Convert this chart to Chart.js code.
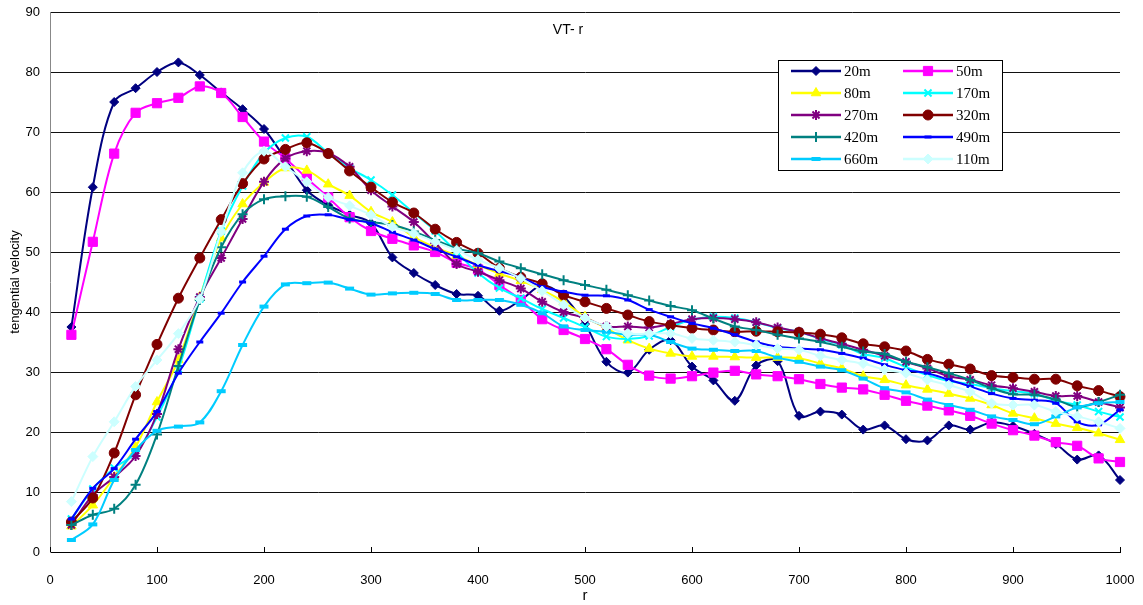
<!DOCTYPE html>
<html>
<head>
<meta charset="utf-8">
<script src="https://cdn.jsdelivr.net/npm/chart.js@4.4.0/dist/chart.umd.min.js"></script>
<style>
    html, body { margin: 0; padding: 0; background: #fff; }
</style>
</head>
<body>
<canvas id="vtChart" width="1143" height="605"></canvas>
<script>
// radius positions (x axis)
const radius = [20, 40, 60, 80, 100, 120, 140, 160, 180, 200,
    220, 240, 260, 280, 300, 320, 340, 360, 380, 400,
    420, 440, 460, 480, 500, 520, 540, 560, 580, 600,
    620, 640, 660, 680, 700, 720, 740, 760, 780, 800,
    820, 840, 860, 880, 900, 920, 940, 960, 980, 1000];

// tangential velocity per height
const v20m = [37.5, 60.8, 75, 77.3, 80, 81.6, 79.5, 76.6, 73.8, 70.5,
    65.5, 60.3, 57.8, 56.2, 54.8, 49.1, 46.5, 44.5, 43, 42.7,
    40.2, 42, 44.4, 42.6, 38, 31.7, 29.9, 33.7, 35.3, 30.9,
    28.6, 25.2, 31.1, 31.8, 22.7, 23.4, 22.9, 20.4, 21.1, 18.8,
    18.6, 21.1, 20.4, 21.6, 21, 19.7, 18, 15.4, 16.1, 12];
const v50m = [36.2, 51.7, 66.4, 73.2, 74.8, 75.7, 77.6, 76.5, 72.5, 68.4,
    65.6, 62.3, 59.1, 55.8, 53.5, 52.2, 51.1, 50, 48.2, 47.1,
    44.5, 42, 38.8, 37, 35.5, 33.8, 31.2, 29.4, 28.9, 29.3,
    29.9, 30.2, 29.6, 29.3, 28.8, 28, 27.4, 27.1, 26.2, 25.2,
    24.4, 23.6, 22.7, 21.4, 20.3, 19.4, 18.3, 17.7, 15.6, 15];
const v80m = [4.3, 7.8, 12.5, 17.5, 25, 32, 42.5, 52.3, 58, 61.6,
    64, 63.6, 61.3, 59.4, 56.7, 55, 52.5, 50.8, 49.4, 47.8,
    46.4, 45.2, 43.7, 41.7, 39.2, 37.3, 35.3, 33.9, 33.1, 32.6,
    32.6, 32.5, 32.4, 32.4, 32.3, 31.4, 30.6, 29.3, 28.7, 27.8,
    27.1, 26.4, 25.6, 24.5, 23.1, 22.3, 21.4, 20.7, 19.8, 18.7];
const v170m = [5.5, 10.5, 14, 16.5, 22.5, 30.5, 42.2, 53.5, 61, 66.5,
    69, 69.2, 66.5, 64, 62, 59.5, 56.5, 53.5, 50, 46.5,
    44, 42.3, 40.5, 39, 37.5, 35.9, 35.5, 36, 37.5, 38.7,
    39.2, 39, 38.3, 37.3, 36.7, 35.5, 34.5, 33, 32.3, 30.8,
    29.5, 28.5, 28, 27.3, 26.8, 26.4, 25.2, 24.5, 23.4, 22.5];
const v270m = [4.5, 9.5, 12.5, 16, 23, 33.8, 42.5, 49, 55.5, 61.7,
    65.6, 66.8, 66.5, 64.2, 60.3, 57.6, 55, 51.5, 48, 46.7,
    45.3, 43.9, 41.7, 40, 39, 37.6, 37.6, 37.4, 38, 38.8,
    39, 38.8, 38.3, 37.4, 36.7, 35.6, 34.7, 33.7, 32.7, 31.7,
    30.6, 29.3, 28.7, 27.8, 27.3, 26.7, 26, 26, 25, 24.1];
const v320m = [5, 9, 16.5, 26.2, 34.6, 42.3, 49, 55.4, 61.4, 65.5,
    67.1, 68.2, 66.4, 63.5, 60.8, 58.3, 56.5, 53.8, 51.6, 49.8,
    47.3, 45.8, 44.7, 42.8, 41.7, 40.6, 39.5, 38.4, 37.8, 37.3,
    37, 36.7, 36.8, 36.7, 36.6, 36.3, 35.7, 34.7, 34.2, 33.5,
    32.1, 31.3, 30.5, 29.4, 29.1, 28.8, 28.8, 27.7, 26.9, 25.9];
const v420m = [4.5, 6.2, 7.2, 11.2, 19.6, 31, 42, 50.8, 56.3, 58.8,
    59.3, 59.2, 57.5, 55.6, 55, 54.5, 53.4, 52, 50.6, 49.8,
    48.4, 47.3, 46.3, 45.3, 44.5, 43.7, 42.8, 41.9, 41, 40.3,
    38.9, 37.6, 37, 36.2, 35.6, 35, 34.2, 33.4, 33, 31.7,
    30.8, 29.8, 28.7, 27.3, 26.3, 26.2, 25.4, 24.2, 25, 26.2];
const v490m = [5.5, 10.6, 13.9, 18.8, 23.4, 29.8, 35, 39.8, 45, 49.3,
    53.8, 56, 56.2, 55.4, 54.8, 53.3, 52, 50.5, 49.2, 47.8,
    46.8, 45.8, 44.2, 43.4, 42.8, 42.7, 42, 40.4, 39.2, 38.1,
    37.3, 36.2, 35, 34.2, 33.9, 33.7, 33.1, 32.3, 31.2, 30.3,
    29.8, 28.7, 27.6, 26.4, 25.6, 25.3, 24.8, 21.7, 21.2, 23.7];
const v660m = [2, 4.6, 12, 17, 20.2, 20.9, 21.6, 26.8, 34.5, 40.9,
    44.6, 44.8, 44.9, 43.9, 42.9, 43.1, 43.2, 43, 42, 42,
    42, 41.2, 39.8, 37.6, 37, 36.7, 36.2, 36.2, 35, 33.9,
    33.7, 33.5, 33.5, 32.4, 31.7, 30.9, 30.3, 28.9, 27.3, 26.6,
    25.4, 24.5, 23.7, 22.6, 22, 21.3, 22.6, 24.1, 24.8, 25];
const v110m = [8.4, 15.9, 21.7, 27.6, 32, 36.4, 42.2, 53.4, 63.2, 66.8,
    64.2, 61.7, 59.1, 57.7, 56.2, 54.2, 53.1, 51.7, 50.3, 48.7,
    47.3, 45.6, 43.5, 41.2, 39, 37.6, 36.4, 36.4, 36.4, 35.6,
    35.3, 35, 34.5, 33.9, 33.7, 32.7, 32, 31.4, 30.4, 29.8,
    28.7, 27.8, 26.7, 24.8, 24.5, 24.5, 23.4, 22.6, 21.7, 20.6];

const seriesNames = ['20m', '50m', '80m', '170m', '270m', '320m', '420m', '490m', '660m', '110m'];
const seriesValues = [v20m, v50m, v80m, v170m, v270m, v320m, v420m, v490m, v660m, v110m];
const xTicks = [0, 100, 200, 300, 400, 500, 600, 700, 800, 900, 1000];
const yTicks = [0, 10, 20, 30, 40, 50, 60, 70, 80, 90];

// excel-ish styles: color, marker, marker radius, marker line width
const styles = [
    { color: '#000080', marker: 'rectRot', r: 4.5, w: 1 },
    { color: '#FF00FF', marker: 'rect', r: 6.5, w: 1 },
    { color: '#FFFF00', marker: 'triangle', r: 5.5, w: 1 },
    { color: '#00FFFF', marker: 'crossRot', r: 5, w: 2 },
    { color: '#800080', marker: 'star', r: 5, w: 2 },
    { color: '#800000', marker: 'circle', r: 5, w: 1 },
    { color: '#008080', marker: 'cross', r: 5, w: 2 },
    { color: '#0000FF', marker: 'line', r: 3.5, w: 3 },
    { color: '#00CCFF', marker: 'line', r: 4.5, w: 4 },
    { color: '#CCFFFF', marker: 'rectRot', r: 5, w: 1 }
];

const datasets = seriesNames.map((name, i) => ({
    label: name,
    data: seriesValues[i].map((v, k) => ({ x: radius[k], y: v })),
    borderColor: styles[i].color,
    backgroundColor: styles[i].color,
    pointBackgroundColor: styles[i].color,
    pointBorderColor: styles[i].color,
    pointStyle: styles[i].marker,
    pointRadius: styles[i].r,
    pointBorderWidth: styles[i].w,
    borderWidth: 2,
    tension: 0.35,
    fill: false,
    clip: false,
    order: seriesNames.length - i
}));

// title inside plot + boxed two-column legend, like the excel original
const overlay = {
    id: 'overlay',
    afterDraw(chart) {
        const ctx = chart.ctx;
        ctx.save();
        ctx.fillStyle = '#000';
        ctx.font = '14px "Liberation Sans", Arial, sans-serif';
        ctx.textAlign = 'center';
        ctx.textBaseline = 'middle';
        ctx.fillText('VT- r', 568, 30);

        // inside tick marks on the x axis
        const xs = chart.scales.x;
        ctx.strokeStyle = '#000';
        ctx.lineWidth = 1;
        xTicks.forEach(t => {
            const px = Math.round(xs.getPixelForValue(t)) + 0.5;
            ctx.beginPath();
            ctx.moveTo(px, chart.chartArea.bottom);
            ctx.lineTo(px, chart.chartArea.bottom - 5);
            ctx.stroke();
        });

        ctx.fillStyle = '#fff';
        ctx.fillRect(778, 60, 224, 110);
        ctx.strokeStyle = '#000';
        ctx.strokeRect(778.5, 60.5, 224, 110);

        ctx.textAlign = 'left';
        ctx.font = '15px "Liberation Serif", "Times New Roman", serif';
        chart.data.datasets.forEach((ds, i) => {
            const x0 = (i % 2) ? 903 : 791;
            const y = 71 + Math.floor(i / 2) * 22;
            ctx.strokeStyle = ds.borderColor;
            ctx.lineWidth = 2.5;
            ctx.beginPath();
            ctx.moveTo(x0, y);
            ctx.lineTo(x0 + 50, y);
            ctx.stroke();
            ctx.fillStyle = ds.pointBackgroundColor;
            ctx.lineWidth = ds.pointBorderWidth;
            if (Chart.helpers && Chart.helpers.drawPoint) {
                Chart.helpers.drawPoint(ctx, {
                    pointStyle: ds.pointStyle,
                    radius: ds.pointRadius,
                    borderWidth: ds.pointBorderWidth,
                    rotation: 0
                }, x0 + 25, y);
            }
            ctx.fillStyle = '#000';
            ctx.fillText(ds.label, x0 + 53, y + 1);
        });
        ctx.restore();
    }
};

new Chart(document.getElementById('vtChart'), {
    type: 'line',
    data: { datasets: datasets },
    options: {
        responsive: false,
        animation: false,
        layout: { padding: { left: 0, right: 23, top: 12, bottom: 0 } },
        plugins: {
            legend: { display: false },
            tooltip: { enabled: false }
        },
        scales: {
            x: {
                type: 'linear',
                min: 0,
                max: 1000,
                afterBuildTicks: s => { s.ticks = xTicks.map(v => ({ value: v })); },
                afterFit: s => { s.height = 53; s.paddingLeft = 0; s.paddingRight = 0; },
                grid: { display: false },
                border: { display: true, color: '#000', width: 1 },
                ticks: {
                    color: '#000',
                    padding: 13,
                    maxRotation: 0,
                    callback: v => String(v),
                    font: { family: '"Liberation Sans", Arial, sans-serif', size: 13 }
                },
                title: {
                    display: true,
                    text: 'r',
                    color: '#000',
                    padding: { top: 0, bottom: 0 },
                    font: { family: '"Liberation Sans", Arial, sans-serif', size: 15 }
                }
            },
            y: {
                min: 0,
                max: 90,
                afterBuildTicks: s => { s.ticks = yTicks.map(v => ({ value: v })); },
                afterFit: s => { s.width = 50; s.paddingTop = 0; s.paddingBottom = 0; },
                grid: { color: '#111', drawTicks: false },
                border: { display: true, color: '#888', width: 1 },
                ticks: {
                    color: '#000',
                    padding: 10,
                    font: { family: '"Liberation Sans", Arial, sans-serif', size: 13 }
                },
                title: {
                    display: true,
                    text: 'tengential velocity',
                    color: '#000',
                    padding: { top: 8, bottom: 0 },
                    font: { family: '"Liberation Sans", Arial, sans-serif', size: 13 }
                }
            }
        }
    },
    plugins: [overlay]
});
</script>
</body>
</html>
